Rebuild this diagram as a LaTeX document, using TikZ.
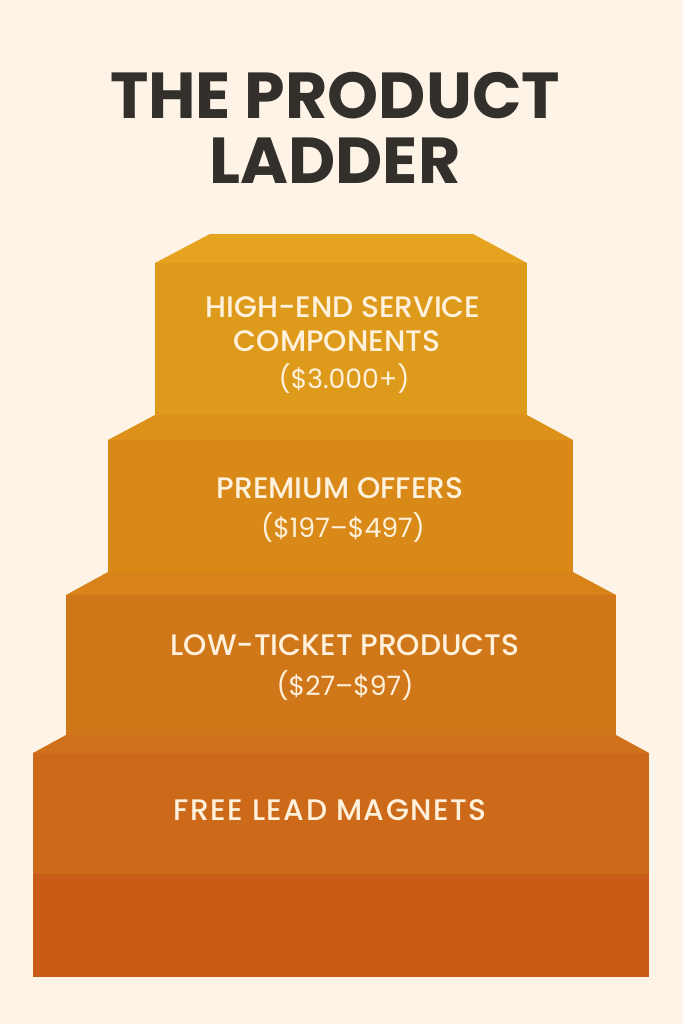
\documentclass[tikz,border=0pt]{standalone}
\usepackage{fontspec}
\setmainfont{Poppins}
\newfontfamily\stepfont{Poppins}[UprightFont=* Medium]
\definecolor{paper}{HTML}{FDF3E6}
\definecolor{ink}{HTML}{33302C}
\definecolor{cream}{HTML}{FFF1DC}
\definecolor{topA}{HTML}{E6A31F}
\definecolor{frontA}{HTML}{DE9A1A}
\definecolor{topB}{HTML}{DD911A}
\definecolor{frontB}{HTML}{D88917}
\definecolor{topC}{HTML}{D8831A}
\definecolor{frontC}{HTML}{D0771A}
\definecolor{topD}{HTML}{D2711B}
\definecolor{frontD}{HTML}{CD6A19}
\definecolor{baseD}{HTML}{C85C17}
\tikzset{
  title/.style={text=ink, anchor=base, inner sep=0pt, font=\bfseries\fontsize{37}{40}\selectfont},
  steplabel/.style={text=cream, anchor=base, inner sep=0pt, font=\stepfont\fontsize{16.9}{19}\selectfont},
  stepprice/.style={text=cream, anchor=base, inner sep=0pt, font=\fontsize{15.2}{18}\selectfont}
}

\begin{document}
\begin{tikzpicture}[x=0.02cm, y=-0.02cm]
	\fill[paper] (0,0) rectangle (683,1024);
	\useasboundingbox (0,0) rectangle (683,1024);
	
	\node[title] (title1) at (335,118) {THE PRODUCT};
	\node[title] (title2) at (335,183) {LADDER};
	
	% bottom step
	\fill[topD] (66,735) -- (616,735) -- (649,753) -- (33,753) -- cycle;
	\fill[frontD] (33,753) rectangle (649,874);
	\fill[baseD] (33,874) rectangle (649,977);
	
	% second step
	\fill[topC] (108,572) -- (573,572) -- (616,595) -- (66,595) -- cycle;
	\fill[frontC] (66,595) rectangle (616,735);
	
	% third step
	\fill[topB] (155,415) -- (527,415) -- (573,440) -- (108,440) -- cycle;
	\fill[frontB] (108,440) rectangle (573,572);
	
	% top step
	\fill[topA] (210,234) -- (473,234) -- (527,263) -- (155,263) -- cycle;
	\fill[frontA] (155,263) rectangle (527,415);
	
	\node[steplabel] (high1) at (343,317) {HIGH-END SERVICE};
	\node[steplabel] (high2) at (337,351) {COMPONENTS};
	\node[stepprice] (high3) at (344,388) {(\$3.000+)};
	
	\node[steplabel] (prem1) at (340,498) {PREMIUM OFFERS};
	\node[stepprice] (prem2) at (343,537) {(\$197–\$497)};
	
	\node[steplabel] (low1) at (345,655) {LOW-TICKET PRODUCTS};
	\node[stepprice] (low2) at (345,695) {(\$27–\$97)};
	
	\node[steplabel, font=\stepfont\fontsize{16.9}{19}\selectfont\addfontfeature{LetterSpace=5}] (free1) at (330,820) {FREE LEAD MAGNETS};
\end{tikzpicture}
\end{document}
